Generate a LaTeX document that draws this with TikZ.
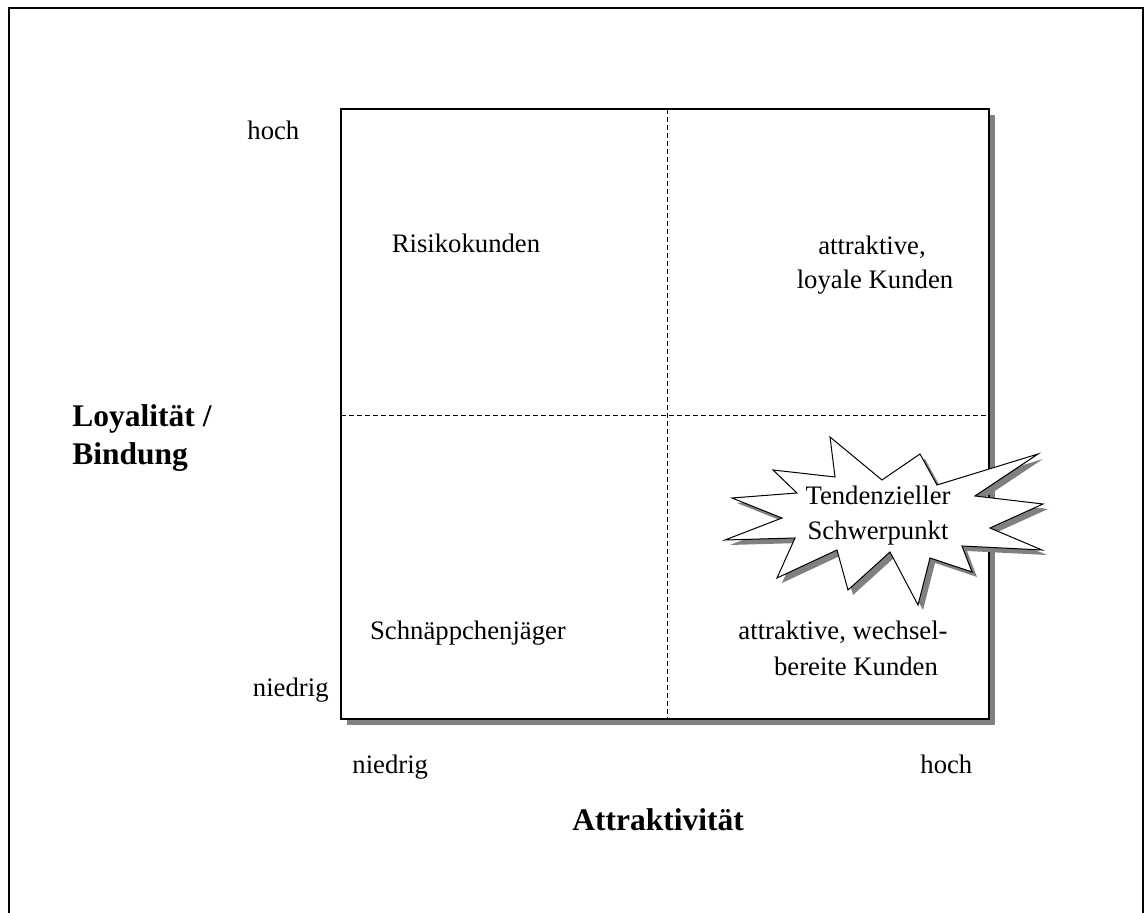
\documentclass[tikz,border=0pt]{standalone}
\usepackage{fontspec}
\setmainfont{Liberation Serif}
\definecolor{shadowgray}{HTML}{808080}
\begin{document}
\begin{tikzpicture}[x=0.5pt,y=-0.5pt,
  lbl/.style={inner sep=0pt, anchor=base, font=\fontsize{13.35}{16}\selectfont},
  axlbl/.style={inner sep=0pt, anchor=base west, font=\fontsize{15.75}{19}\selectfont\bfseries},
  frameline/.style={line width=1pt},
  boxline/.style={line width=0.65pt},
  divline/.style={line width=0.5pt, dash pattern=on 2.5pt off 1.5pt},
  burstline/.style={line width=0.5pt, line join=miter},
  burst/.pic={\path[pic actions] (830,437) -- (882,480) -- (920,454) -- (937,485)
     -- (1038,454) -- (975,496) -- (1043,504) -- (990,528) -- (1042,550)
     -- (962,546) -- (972,572) -- (930,558) -- (918,605) -- (890,552)
     -- (848,590) -- (837,550) -- (777,578) -- (795,538) -- (725,540)
     -- (782,518) -- (732,498) -- (797,493) -- (773,470) -- (835,477) -- cycle;}
]
\useasboundingbox (0,0) rectangle (1148,913);
\clip (0,0) rectangle (1148,913);
% outer frame
\draw[frameline] (9,8) rectangle (1142.5,940);
% matrix box with shadow
\fill[shadowgray] (347,115) rectangle (995,725);
\draw[boxline, fill=white] (341,109) rectangle (989,719);
\coordinate (vt) at (667,109);
\coordinate (vb) at (667,719);
\coordinate (hl) at (341,416);
\coordinate (hr) at (989,416);
\draw[divline] (vt) -- (vb);
\draw[divline] (hl) -- (hr);
% starburst
\pic[fill=shadowgray] at (5,5) {burst};
\pic[fill=white, draw=black, burstline] at (0,0) {burst};
% axis tick labels
\node[lbl, anchor=base west] (yhigh) at (247,140) {hoch};
\node[lbl, anchor=base east] (ylow) at (329,697) {niedrig};
\node[lbl, anchor=base west] (xlow) at (352,774) {niedrig};
\node[lbl, anchor=base west] (xhigh) at (920,774) {hoch};
% axis titles
\node[axlbl] (ytitle1) at (72,427) {Loyalität /};
\node[axlbl] (ytitle2) at (72,465) {Bindung};
\node[axlbl] (xtitle) at (572,831) {Attraktivität};
% quadrant labels
\node[lbl] (q1) at (466,253) {Risikokunden};
\node[lbl] (q2a) at (872,255) {attraktive,};
\node[lbl] (q2b) at (875,289) {loyale Kunden};
\node[lbl] (q3) at (468,640) {Schnäppchenjäger};
\node[lbl] (q4a) at (843,640) {attraktive, wechsel-};
\node[lbl] (q4b) at (856,676) {bereite Kunden};
% starburst text
\node[lbl] (b1) at (878,505) {Tendenzieller};
\node[lbl] (b2) at (878,540) {Schwerpunkt};
\end{tikzpicture}
\end{document}
